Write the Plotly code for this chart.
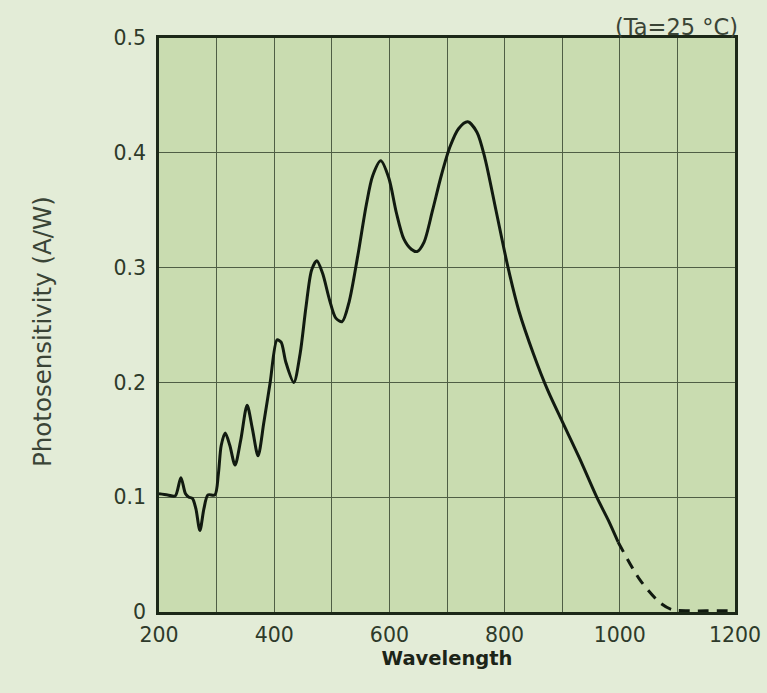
import plotly.graph_objects as go

# Measured curve (solid part)
wavelength = [200, 215, 228, 238, 246, 252, 258, 264, 271, 278, 285, 297, 303, 308, 315, 323,
              332, 342, 353, 362, 372, 382, 393, 405, 412, 420, 434, 445, 455, 465, 474, 484,
              496, 507, 518, 530, 545, 560, 571, 585, 599, 612, 625, 638, 648, 660, 675, 690,
              705, 720, 736, 752, 766, 785, 806, 825, 850, 875, 900, 930, 960, 980, 997]
sensitivity = [0.103, 0.102, 0.101, 0.117, 0.103, 0.100, 0.099, 0.090, 0.071, 0.090, 0.102, 0.102,
               0.120, 0.145, 0.156, 0.145, 0.128, 0.150, 0.180, 0.160, 0.136, 0.165, 0.200, 0.237,
               0.235, 0.218, 0.200, 0.225, 0.265, 0.298, 0.306, 0.295, 0.272, 0.256, 0.253, 0.270,
               0.310, 0.355, 0.380, 0.393, 0.378, 0.348, 0.325, 0.316, 0.314, 0.322, 0.350, 0.380,
               0.405, 0.421, 0.427, 0.418, 0.395, 0.350, 0.300, 0.262, 0.225, 0.193, 0.166, 0.134,
               0.100, 0.080, 0.061]

# Extrapolated tail (dashed)
tail_wavelength = [997, 1035, 1070, 1091, 1120, 1150, 1200]
tail_sensitivity = [0.061, 0.028, 0.008, 0.002, 0.001, 0.001, 0.001]

x_ticks = [200, 400, 600, 800, 1000, 1200]
y_ticks = [0, 0.1, 0.2, 0.3, 0.4, 0.5]
y_tick_labels = ["0", "0.1", "0.2", "0.3", "0.4", "0.5"]

grid_col = "#4f5e45"
frame_col = "#1c2818"
text_col = "#2e3a2a"
W, H = 767, 693
L, R, T, B = 159, 32, 38, 81

fig = go.Figure()
fig.add_trace(go.Scatter(x=wavelength, y=sensitivity, mode="lines",
                         line=dict(color="#111a10", width=3, shape="spline", smoothing=0.8),
                         showlegend=False, hoverinfo="skip"))
fig.add_trace(go.Scatter(x=tail_wavelength, y=tail_sensitivity, mode="lines",
                         line=dict(color="#111a10", width=3, dash="11px,8px", shape="spline", smoothing=0.8),
                         showlegend=False, hoverinfo="skip"))

fig.update_layout(
    width=W, height=H,
    margin=dict(l=L, r=R, t=T, b=B, autoexpand=False),
    paper_bgcolor="#e3ecd7",
    plot_bgcolor="#c9dcb0",
    font=dict(family="DejaVu Sans, Verdana, sans-serif", color=text_col, size=20),
    xaxis=dict(range=[200, 1200], tickvals=x_ticks, showgrid=True, gridcolor=grid_col, gridwidth=1.4,
               minor=dict(dtick=100, tick0=200, showgrid=True, gridcolor=grid_col, gridwidth=1.4),
               showline=True, linecolor=frame_col, linewidth=2.5, mirror=True, zeroline=False,
               automargin=False,
               ticks="", ticklabelstandoff=3, tickfont=dict(size=20.5, color=text_col),
               title=dict(text="<b>Wavelength</b>", font=dict(size=19.5, color="#1c2418"), standoff=1)),
    yaxis=dict(range=[0, 0.5], tickvals=y_ticks, ticktext=y_tick_labels, showgrid=True,
               gridcolor=grid_col, gridwidth=1.4, automargin=False,
               showline=True, linecolor=frame_col, linewidth=2.5, mirror=True, zeroline=False,
               ticks="", ticklabelstandoff=6, tickfont=dict(size=20.5, color=text_col)),
    annotations=[
        dict(text="(Ta=25 °C)", xref="paper", yref="paper", x=1.0, y=1.0,
             xanchor="right", yanchor="bottom", showarrow=False, yshift=-4, xshift=5,
             font=dict(size=22.5, color="#3a4436")),
        dict(text="Photosensitivity (A/W)", xref="paper", yref="paper",
             x=(42 - L) / (W - L - R), y=(H - B - 332) / (H - T - B),
             xanchor="center", yanchor="middle", textangle=-90, showarrow=False,
             font=dict(size=24.5, color="#3a4436")),
    ],
)

fig.write_html("out.html", config={"displayModeBar": False},
               post_script="document.body.style.margin='0';document.body.style.background='#e3ecd7';")
